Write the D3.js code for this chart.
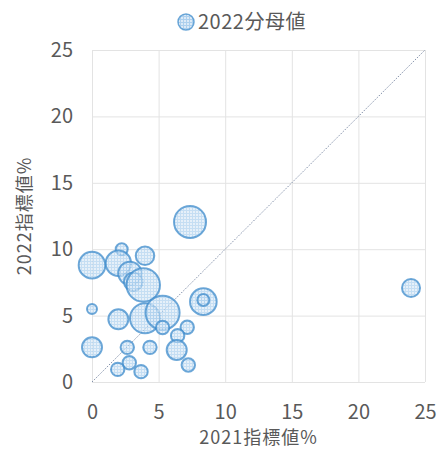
<!DOCTYPE html>
<html>
<head>
<meta charset="utf-8">
<script src="https://cdn.jsdelivr.net/npm/d3@7"></script>
<style>
  body { margin: 0; background: #fff; }
  text { font-family: "Noto Sans CJK JP", "Noto Sans", sans-serif; fill: #595959; }
</style>
</head>
<body>
<div class="chart"></div>
<script>
// 2021 vs 2022 indicator values, bubble = 2022 denominator
const x2021 = [0, 0, 0, 2.23, 1.98, 2.85, 3.1, 3.85, 3.98, 7.36, 8.36, 8.36, 1.98, 3.98, 5.3, 5.3, 7.15, 6.43, 2.65, 4.35, 6.36, 2.8, 1.93, 3.68, 7.23, 23.95];
const y2022 = [8.8, 5.5, 2.61, 10.0, 8.94, 8.18, 7.55, 7.3, 9.5, 12.05, 6.05, 6.17, 4.72, 4.8, 5.22, 4.1, 4.12, 3.49, 2.61, 2.61, 2.41, 1.45, 0.95, 0.78, 1.28, 7.08];
const denom = [177, 25, 100, 36, 161, 137, 86, 279, 86, 256, 177, 36, 100, 225, 289, 45, 45, 45, 45, 45, 100, 45, 45, 45, 45, 81];
const xTicks = [0, 5, 10, 15, 20, 25];
const yTicks = [0, 5, 10, 15, 20, 25];
const legendLabel = "2022分母値";
const xTitle = "2021指標値%";
const yTitle = "2022指標値%";

const width = 438, height = 450;
const margin = { top: 50, right: 13, bottom: 68, left: 92 };

const x = d3.scaleLinear().domain([0, 25]).range([margin.left, width - margin.right]);
const y = d3.scaleLinear().domain([0, 25]).range([height - margin.bottom, margin.top]);
const r = d3.scaleSqrt().domain([0, d3.max(denom)]).range([0, 17]);

const svg = d3.select(".chart").append("svg")
  .attr("width", width).attr("height", height);

// grid-textured bubble fill
const pat = svg.append("defs").append("pattern")
  .attr("id", "grid")
  .attr("patternUnits", "userSpaceOnUse")
  .attr("width", 3).attr("height", 3);
pat.append("rect").attr("width", 3).attr("height", 3).attr("fill", "#dceaf7");
pat.append("path").attr("d", "M0,0.5H3M0.5,0V3")
  .attr("stroke", "#add0ee").attr("stroke-width", 1);

// grid
svg.append("g")
  .attr("transform", `translate(0,${y(0)})`)
  .call(d3.axisBottom(x).tickValues(xTicks).tickSize(-(y(0) - y(25))).tickFormat(""))
  .call(g => g.select(".domain").remove())
  .call(g => g.selectAll("line").attr("stroke", "#e3e3e3"));
svg.append("g")
  .attr("transform", `translate(${x(0)},0)`)
  .call(d3.axisLeft(y).tickValues(yTicks).tickSize(-(x(25) - x(0))).tickFormat(""))
  .call(g => g.select(".domain").remove())
  .call(g => g.selectAll("line").attr("stroke", "#e3e3e3"));

// tick labels
svg.append("g")
  .attr("transform", `translate(0,${y(0) + 30})`)
  .call(d3.axisBottom(x).tickValues(xTicks).tickSize(0).tickPadding(0))
  .call(g => g.select(".domain").remove())
  .call(g => g.selectAll("text").attr("dy", "0.35em")
    .style("font-size", "20px").attr("fill", "#595959"));
svg.append("g")
  .attr("transform", `translate(${x(0) - 19},0)`)
  .call(d3.axisLeft(y).tickValues(yTicks).tickSize(0).tickPadding(0))
  .call(g => g.select(".domain").remove())
  .call(g => g.selectAll("text").style("font-size", "20px").attr("fill", "#595959"));

// y = x reference line
svg.append("line")
  .attr("x1", x(0)).attr("y1", y(0))
  .attr("x2", x(25)).attr("y2", y(25))
  .attr("stroke", "#7f8ea8").attr("stroke-width", 1)
  .attr("stroke-dasharray", "1.5,1.5");

// bubbles
svg.append("g")
  .selectAll("circle")
  .data(d3.range(x2021.length))
  .join("circle")
  .attr("cx", i => x(x2021[i]))
  .attr("cy", i => y(y2022[i]))
  .attr("r", i => r(denom[i]))
  .attr("fill", "url(#grid)")
  .attr("fill-opacity", 0.7)
  .attr("stroke", "#3d8bcb")
  .attr("stroke-opacity", 0.75)
  .attr("stroke-width", 2);

// axis titles
svg.append("text")
  .attr("x", (x(0) + x(25)) / 2).attr("y", 444)
  .attr("text-anchor", "middle")
  .style("font-size", "18px")
  .style("letter-spacing", "1px")
  .text(xTitle);
svg.append("text")
  .attr("transform", `translate(31,${(y(0) + y(25)) / 2}) rotate(-90)`)
  .attr("text-anchor", "middle")
  .style("font-size", "18px")
  .style("letter-spacing", "1px")
  .text(yTitle);

// legend
const lg = svg.append("g").attr("transform", "translate(186,22)");
lg.append("circle").attr("r", 8)
  .attr("fill", "url(#grid)")
  .attr("stroke", "#3d8bcb").attr("stroke-opacity", 0.75).attr("stroke-width", 1.5);
lg.append("text").attr("x", 12).attr("dy", "0.35em")
  .style("font-size", "20px")
  .style("letter-spacing", "0.5px")
  .text(legendLabel);
</script>
</body>
</html>
